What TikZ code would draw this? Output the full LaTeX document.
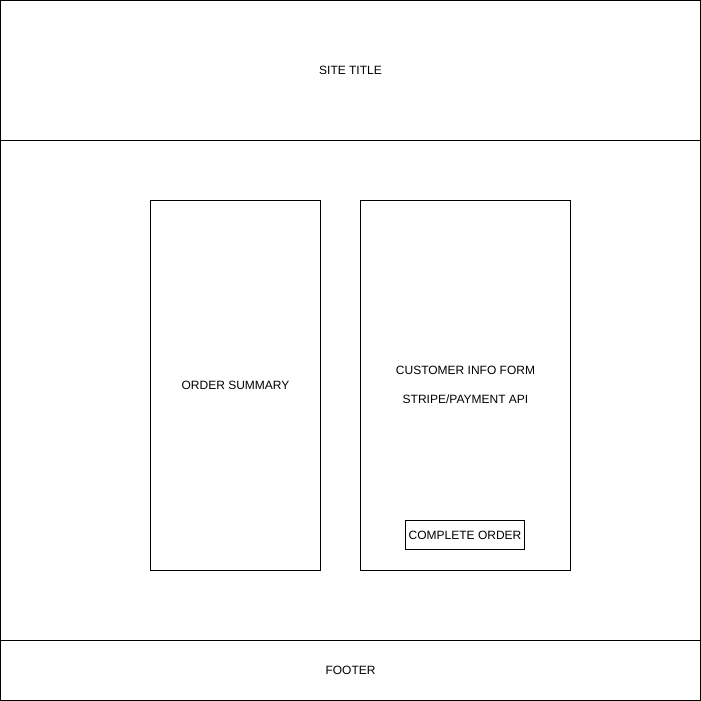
\documentclass[tikz,border=0pt]{standalone}
\usepackage{fontspec}
\setmainfont{Liberation Sans}
\usetikzlibrary{positioning}

\tikzset{
  panel/.style={draw, line width=1pt, inner sep=0pt, minimum width=#1},
  label/.style={font=\fontsize{12}{14}\selectfont, align=center}
}

\begin{document}
\begin{tikzpicture}[x=1pt, y=-1pt]
  \useasboundingbox (0,0) rectangle (701,701);

  % page frame: header, content, footer
  \node[panel=700pt, minimum height=140pt, label] (header) at (350.5,70.5) {SITE TITLE};
  \node[panel=700pt, minimum height=500pt] (content) at (350.5,390.5) {};
  \node[panel=700pt, minimum height=60pt, label] (footer) at (350.5,670.5) {FOOTER};

  % the two columns
  \node[panel=170pt, minimum height=370pt, label] (summary) at (235.5,385.5) {ORDER SUMMARY};
  \node[panel=210pt, minimum height=370pt, label] (checkout) at (465.5,385)
    {CUSTOMER INFO FORM\\[15pt]STRIPE/PAYMENT API};

  % button
  \node[panel=119pt, minimum height=29pt, label] (complete) at (465,535) {COMPLETE ORDER};
\end{tikzpicture}
\end{document}
